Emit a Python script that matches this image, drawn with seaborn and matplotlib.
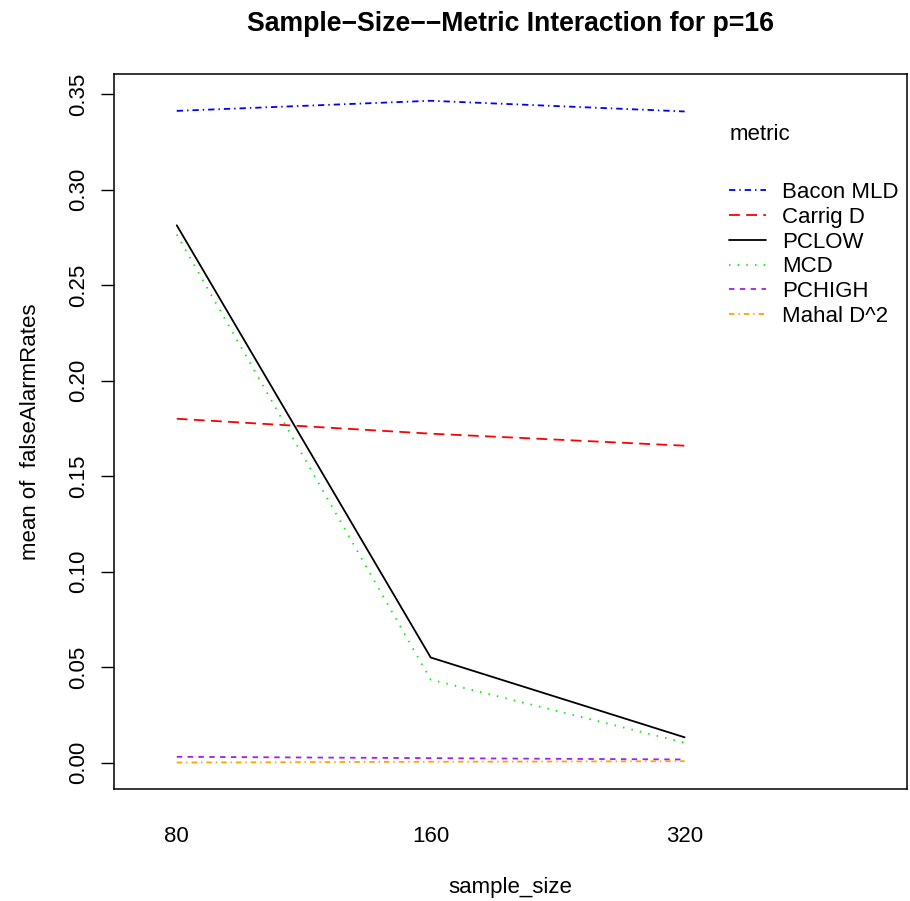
import matplotlib
matplotlib.use("Agg")
import matplotlib.pyplot as plt
import numpy as np
import pandas as pd
import seaborn as sns

# ---- data ----
sample_sizes = ["80", "160", "320"]
metrics = ["Bacon MLD", "Carrig D", "PCLOW", "MCD", "PCHIGH", "Mahal D^2"]
bacon_mld = [0.3412, 0.3465, 0.3409]
carrig_d = [0.1800, 0.1722, 0.1659]
pclow = [0.2813, 0.0550, 0.0132]
mcd = [0.2765, 0.0434, 0.0104]
pchigh = [0.0030, 0.0023, 0.0016]
mahal_d2 = [0.0000, 0.0004, 0.0007]
y_ticks = [0.00, 0.05, 0.10, 0.15, 0.20, 0.25, 0.30, 0.35]

series = [bacon_mld, carrig_d, pclow, mcd, pchigh, mahal_d2]
rows = []
for m, vals in zip(metrics, series):
    for i, (s, v) in enumerate(zip(sample_sizes, vals)):
        rows.append({"metric": m, "pos": i + 1, "sample_size": s, "rate": v})
df = pd.DataFrame(rows)

# ---- style ----
sns.set_style("white")
plt.rcParams["font.family"] = ["Liberation Sans", "DejaVu Sans"]
for k in ["text.color", "axes.labelcolor", "xtick.color", "ytick.color"]:
    plt.rcParams[k] = "black"

palette = {"Bacon MLD": "#0000FF", "Carrig D": "#FF0000", "PCLOW": "#000000",
           "MCD": "#00EE00", "PCHIGH": "#A020F0", "Mahal D^2": "#FFA500"}
dashes = {"Bacon MLD": (3.5, 2.2, 0.8, 2.2), "Carrig D": (6, 3.5), "PCLOW": "",
          "MCD": (0.8, 4), "PCHIGH": (3, 3), "Mahal D^2": (3, 2.2, 0.8, 2.2)}

W, H = 910, 901
fig = plt.figure(figsize=(W / 100, H / 100), dpi=100)
L, R, T, B = 113.5, 907, 74.3, 789
ax = fig.add_axes([L / W, 1 - B / H, (R - L) / W, (B - T) / H])

sns.lineplot(data=df, x="pos", y="rate", hue="metric", style="metric",
             hue_order=metrics, style_order=metrics, palette=palette,
             dashes=dashes, estimator=None, sort=False, linewidth=1.3,
             legend=False, ax=ax)

# R interaction.plot style limits
n = len(sample_sizes)
xl = 1 - 0.2 / n * (n - 1)
xr = n + (0.2 + 0.02 * max(len(m) for m in metrics)) * (n - 1)
ext = 0.04 * (xr - xl)
ax.set_xlim(xl - ext, xr + ext)
allv = np.concatenate([np.array(s) for s in series])
lo, hi = allv.min(), allv.max()
ax.set_ylim(lo - 0.04 * (hi - lo), hi + 0.04 * (hi - lo))

ax.set_xticks(range(1, n + 1))
ax.set_xticklabels(sample_sizes)
ax.set_yticks(y_ticks)
ax.set_yticklabels([f"{t:.2f}" for t in y_ticks], rotation=90, va="center")
ax.tick_params(axis="x", length=0, pad=26.5, labelsize=16, colors="black")
ax.tick_params(axis="y", length=9.4, width=1, direction="out", pad=8.4,
               labelsize=16, left=True, colors="black")
for sp in ax.spines.values():
    sp.set_visible(True)
    sp.set_color("black")
    sp.set_linewidth(1.1)

ax.set_xlabel("sample_size", fontsize=16, labelpad=22, color="black")
ax.set_ylabel("mean of  falseAlarmRates", fontsize=16, labelpad=19, color="black")
ax.set_title("Sample\u2212Size\u2212\u2212Metric Interaction for p=16",
             fontsize=19.2, fontweight="bold", pad=31, color="black")

# legend
handles = ax.get_lines()[:len(metrics)]
fig.text(730 / W, 1 - 135 / H, "metric", fontsize=16, ha="left", va="center",
         color="black")
leg = ax.legend(handles, metrics, loc="upper left",
                bbox_to_anchor=(729 / W, 1 - 182 / H), bbox_transform=fig.transFigure,
                frameon=False, fontsize=16, handlelength=1.65, handletextpad=0.75,
                labelspacing=0.17, borderpad=0, borderaxespad=0)
for t in leg.get_texts():
    t.set_color("black")

fig.savefig("out.png", dpi=100, facecolor="white")
